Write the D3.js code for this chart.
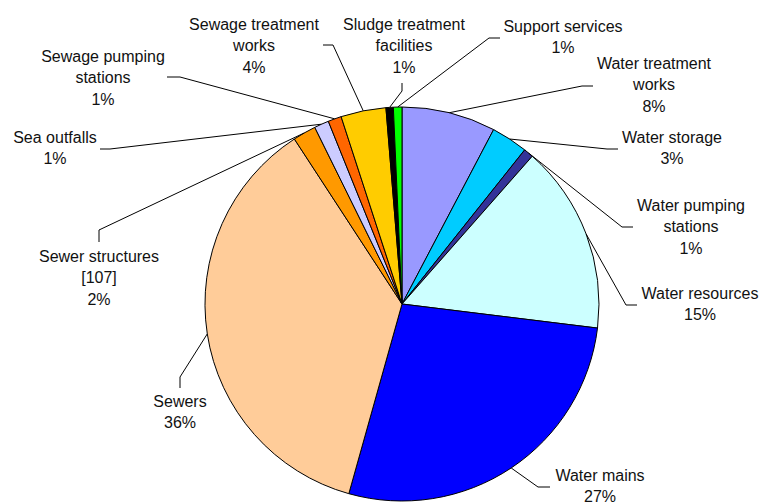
<!DOCTYPE html>
<html>
<head>
<meta charset="utf-8">
<script src="https://cdn.jsdelivr.net/npm/d3@7"></script>
<style>
    body { margin: 0; background: #fff; }
    svg { display: block; }
    text { font-family: "Liberation Sans", Arial, sans-serif; font-size: 16px; fill: #111; }
</style>
</head>
<body>
<div id="chart"></div>
<script>
// slice order is clockwise from 12 o'clock
const categories = [
    'Water treatment works', 'Water storage', 'Water pumping stations', 'Water resources',
    'Water mains', 'Sewers', 'Sewer structures', 'Sea outfalls',
    'Sewage pumping stations', 'Sewage treatment works', 'Sludge treatment facilities', 'Support services'
];
// share of spend, percent
const values = [7.7, 3.0, 0.8, 15.45, 27.4, 36.45, 1.9, 1.2, 1.1, 3.7, 0.6, 0.7];
// label text lines above the percentage
const labelLines = [
    ['Water treatment', 'works'], ['Water storage'], ['Water pumping', 'stations'], ['Water resources'],
    ['Water mains'], ['Sewers'], ['Sewer structures', '[107]'], ['Sea outfalls'],
    ['Sewage pumping', 'stations'], ['Sewage treatment', 'works'], ['Sludge treatment', 'facilities'], ['Support services']
];
const colors = [
    '#9999FF', '#00CCFF', '#333399', '#CCFFFF',
    '#0000FF', '#FFCC99', '#FF9900', '#CCCCFF',
    '#FF6600', '#FFCC00', '#000000', '#00FF00'
];

// manual label placement: text centre x, first baseline, leader elbow and end
const labelLayout = [
    { x: 654, y: 68.5, elbow: [582, 86], end: [593, 86] },
    { x: 672, y: 142.5, elbow: [607, 149], end: [618, 149] },
    { x: 691, y: 210.5, elbow: [622, 227], end: [633, 227] },
    { x: 700, y: 298.5, elbow: [626, 305], end: [637, 305] },
    { x: 600, y: 480.5, elbow: [538, 487], end: [550, 487] },
    { x: 180, y: 406.5, elbow: [180, 377], end: [180, 388] },
    { x: 99, y: 261.5, elbow: [99, 230], end: [99, 242] },
    { x: 55, y: 142.5, elbow: [110, 149], end: [100, 149] },
    { x: 103, y: 61.5, elbow: [180, 77], end: [167, 77] },
    { x: 254, y: 29.5, elbow: [333, 45], end: [323, 45] },
    { x: 404, y: 29.5, elbow: [402, 91], end: [402, 83] },
    { x: 563, y: 31.5, elbow: [489, 38], end: [500, 38] }
];

const width = 763, height = 502;
const cx = 402, cy = 304, radius = 197;
const lineHeight = 21.5;

const svg = d3.select('#chart')
    .append('svg')
    .attr('width', width)
    .attr('height', height);

const data = categories.map((name, i) => ({ name, value: values[i], i }));
const total = d3.sum(values);

const pie = d3.pie()
    .value(d => d.value)
    .sort(null);

const arcs = pie(data);

const arc = d3.arc()
    .innerRadius(0)
    .outerRadius(radius);

// point on the rim, used for the leader lines
const rimArc = d3.arc()
    .innerRadius(radius)
    .outerRadius(radius);

const g = svg.append('g')
    .attr('transform', `translate(${cx},${cy})`);

g.selectAll('path.slice')
    .data(arcs)
    .enter()
    .append('path')
    .attr('class', 'slice')
    .attr('d', arc)
    .attr('fill', d => colors[d.data.i])
    .attr('stroke', '#000')
    .attr('stroke-width', 1)
    .attr('stroke-linejoin', 'round');

// leader lines
svg.append('g')
    .selectAll('polyline')
    .data(arcs)
    .enter()
    .append('polyline')
    .attr('points', d => {
        const c = rimArc.centroid(d);
        const lay = labelLayout[d.data.i];
        return [[cx + c[0], cy + c[1]], lay.elbow, lay.end].map(p => p.join(',')).join(' ');
    })
    .attr('fill', 'none')
    .attr('stroke', '#000')
    .attr('stroke-width', 1);

// labels
const labels = svg.append('g')
    .selectAll('text')
    .data(arcs)
    .enter()
    .append('text')
    .attr('text-anchor', 'middle')
    .attr('x', d => labelLayout[d.data.i].x)
    .attr('y', d => labelLayout[d.data.i].y);

labels.each(function (d) {
    const lines = labelLines[d.data.i].concat(`${Math.round(d.data.value / total * 100)}%`);
    const lay = labelLayout[d.data.i];
    d3.select(this)
        .selectAll('tspan')
        .data(lines)
        .enter()
        .append('tspan')
        .attr('x', lay.x)
        .attr('dy', (t, j) => j === 0 ? 0 : lineHeight)
        .text(t => t);
});
</script>
</body>
</html>
